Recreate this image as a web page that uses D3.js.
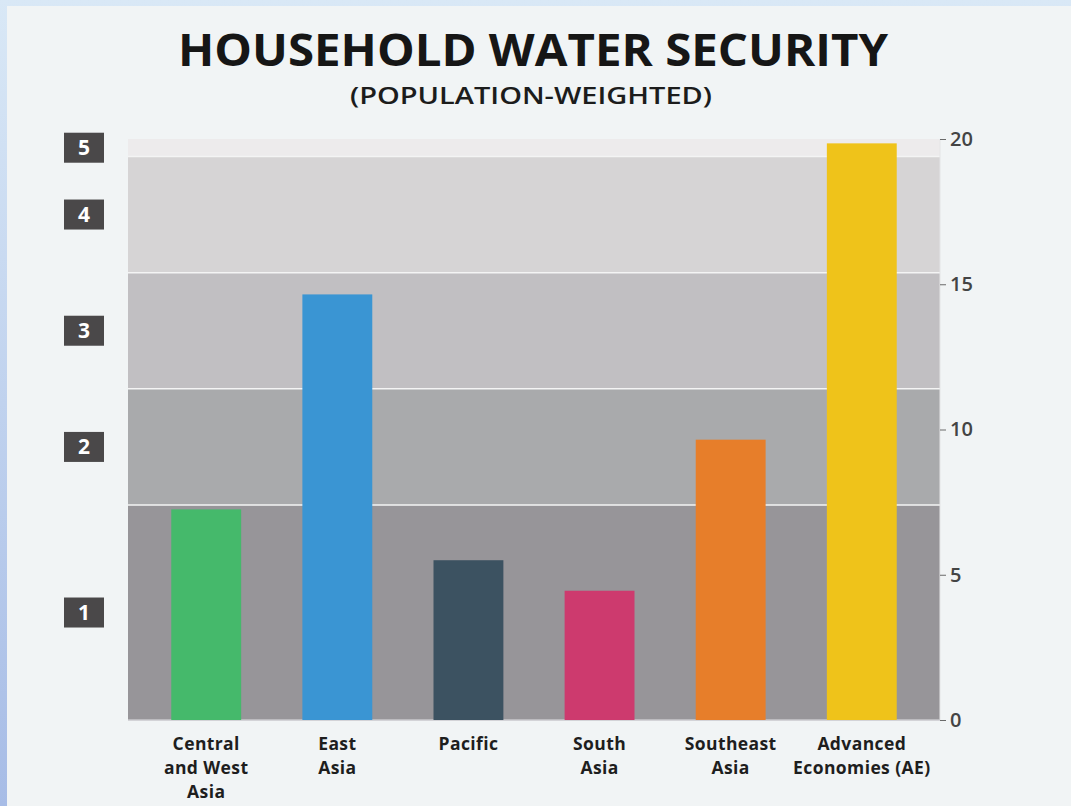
<!DOCTYPE html>
<html>
<head>
<meta charset="utf-8">
<script src="https://cdn.jsdelivr.net/npm/d3@7"></script>
<style>
  body { margin: 0; padding: 0; overflow: hidden; }
  text { font-family: "Open Sans", "Noto Sans", sans-serif; }
</style>
</head>
<body>
<div class="chart"></div>
<script>
// chart data
var regions = ["Central and West Asia", "East Asia", "Pacific", "South Asia", "Southeast Asia", "Advanced Economies (AE)"];
var regionLines = [["Central", "and West", "Asia"], ["East", "Asia"], ["Pacific"], ["South", "Asia"], ["Southeast", "Asia"], ["Advanced", "Economies (AE)"]];
var scores = [7.25, 14.65, 5.5, 4.45, 9.65, 19.85];
var barColors = ["#45b96b", "#3a95d3", "#3c5261", "#cd3a6e", "#e77e2a", "#efc31a"];
var levelBreaks = [0, 7.4, 11.4, 15.4, 19.4, 20];
var levelNames = ["1", "2", "3", "4", "5"];
var levelColors = ["#979599", "#a9aaac", "#c1bfc2", "#d6d4d5", "#edebec"];
var yTicks = [0, 5, 10, 15, 20];

var svgWidth = 1071, svgHeight = 806;
var margin = { top: 139, right: 131, bottom: 86, left: 128 };
var width = svgWidth - margin.left - margin.right;
var height = svgHeight - margin.top - margin.bottom;

var svg = d3.select(".chart")
    .append("svg")
    .attr("width", svgWidth)
    .attr("height", svgHeight);

// page background
var defs = svg.append("defs");
var grad = defs.append("linearGradient")
    .attr("id", "edge")
    .attr("x1", 0).attr("y1", 0).attr("x2", 0).attr("y2", 1);
grad.append("stop").attr("offset", "0%").attr("stop-color", "#d9e8f6");
grad.append("stop").attr("offset", "100%").attr("stop-color", "#a7bce6");

svg.append("rect")
    .attr("width", svgWidth).attr("height", svgHeight)
    .attr("fill", "url(#edge)");
svg.append("rect")
    .attr("x", 7).attr("y", 6)
    .attr("width", svgWidth - 7).attr("height", svgHeight - 6)
    .attr("fill", "#f1f4f5");

// titles
svg.append("text")
    .attr("x", 533).attr("y", 66)
    .attr("text-anchor", "middle")
    .attr("font-size", 44)
    .attr("font-weight", 700)
    .attr("fill", "#161616")
    .attr("textLength", 710)
    .attr("lengthAdjust", "spacingAndGlyphs")
    .text("HOUSEHOLD WATER SECURITY");

svg.append("text")
    .attr("x", 531).attr("y", 104)
    .attr("text-anchor", "middle")
    .attr("font-size", 23)
    .attr("font-weight", 600)
    .attr("fill", "#1c1c1c")
    .attr("textLength", 362)
    .attr("lengthAdjust", "spacingAndGlyphs")
    .text("(POPULATION-WEIGHTED)");

var chartGroup = svg.append("g")
    .attr("transform", `translate(${margin.left}, ${margin.top})`);

var yScale = d3.scaleLinear()
    .domain([0, 20])
    .range([height, 0]);

var xScale = d3.scaleBand()
    .domain(regions)
    .range([0, width])
    .paddingInner(0.467)
    .paddingOuter(0.33);

// level bands
var bands = levelNames.map(function(name, i) {
    return { name: name, lo: levelBreaks[i], hi: levelBreaks[i + 1], color: levelColors[i] };
});

chartGroup.selectAll(".band")
    .data(bands)
    .enter()
    .append("rect")
    .attr("class", "band")
    .attr("x", 0)
    .attr("width", width)
    .attr("y", d => yScale(d.hi))
    .attr("height", d => yScale(d.lo) - yScale(d.hi))
    .attr("fill", d => d.color);

// white separators between levels
chartGroup.selectAll(".sep")
    .data(levelBreaks.slice(1, -1))
    .enter()
    .append("line")
    .attr("x1", 0).attr("x2", width)
    .attr("y1", d => yScale(d)).attr("y2", d => yScale(d))
    .attr("stroke", "#f4f4f4")
    .attr("stroke-width", 1.5);

// right edge / bottom edge
chartGroup.append("line")
    .attr("x1", width).attr("x2", width)
    .attr("y1", 0).attr("y2", height)
    .attr("stroke", "#e4e4e6").attr("stroke-width", 1);
chartGroup.append("line")
    .attr("x1", 0).attr("x2", width)
    .attr("y1", height).attr("y2", height)
    .attr("stroke", "#c9c9cd").attr("stroke-width", 1.5);

// bars
chartGroup.selectAll(".bar")
    .data(regions)
    .enter()
    .append("rect")
    .attr("class", "bar")
    .attr("x", d => xScale(d))
    .attr("width", xScale.bandwidth())
    .attr("y", (d, i) => yScale(scores[i]))
    .attr("height", (d, i) => height - yScale(scores[i]))
    .attr("fill", (d, i) => barColors[i]);

// right axis
var rightAxis = d3.axisRight(yScale)
    .tickValues(yTicks)
    .tickSize(6)
    .tickPadding(4);

var yAxis = chartGroup.append("g")
    .attr("transform", `translate(${width}, 0)`)
    .call(rightAxis);
yAxis.select(".domain").remove();
yAxis.selectAll(".tick line").attr("stroke", "#6a6a6a");
yAxis.selectAll(".tick text")
    .attr("fill", "#444")
    .attr("font-size", 20)
    .attr("font-weight", 600)
    .attr("font-family", "'Open Sans', sans-serif");

// level boxes on the left
var levelGroup = svg.selectAll(".level")
    .data(bands)
    .enter()
    .append("g")
    .attr("class", "level")
    .attr("transform", d => `translate(84, ${margin.top + yScale((d.lo + d.hi) / 2)})`);

levelGroup.append("rect")
    .attr("x", -20).attr("y", -15)
    .attr("width", 40).attr("height", 30)
    .attr("fill", "#4a4849");

levelGroup.append("text")
    .attr("text-anchor", "middle")
    .attr("dy", "0.36em")
    .attr("font-size", 21)
    .attr("font-weight", 700)
    .attr("fill", "#ffffff")
    .text(d => d.name);

// x labels
var labelGroup = chartGroup.selectAll(".xlabel")
    .data(regions)
    .enter()
    .append("text")
    .attr("class", "xlabel")
    .attr("text-anchor", "middle")
    .attr("font-size", 17.5)
    .attr("font-weight", 700)
    .attr("letter-spacing", 0.4)
    .attr("fill", "#1e1e1e")
    .attr("transform", d => `translate(${xScale(d) + xScale.bandwidth() / 2}, ${height + 30})`);

labelGroup.each(function(d, i) {
    var t = d3.select(this);
    regionLines[i].forEach(function(line, j) {
        t.append("tspan")
            .attr("x", 0)
            .attr("y", j * 24)
            .text(line);
    });
});
</script>
</body>
</html>
